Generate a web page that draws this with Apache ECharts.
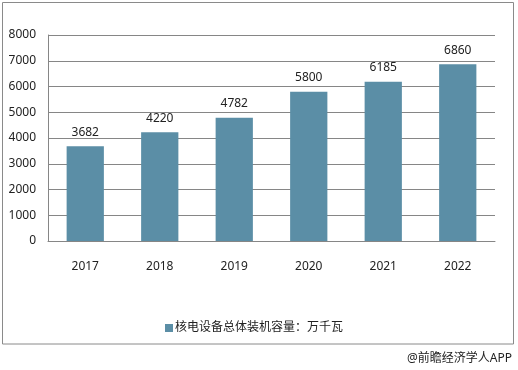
<!DOCTYPE html>
<html><head><meta charset="utf-8">
<script src="https://cdn.jsdelivr.net/npm/echarts@6/dist/echarts.min.js"></script>
<style>html,body{margin:0;padding:0;background:#fff}#c{width:518px;height:370px}</style>
</head><body><div id="c"></div>
<script>
const categories = ['2017','2018','2019','2020','2021','2022'];
const values = [3682, 4220, 4782, 5800, 6185, 6860];
const seriesName = '核电设备总体装机容量：万千瓦';
const sourceText = '@前瞻经济学人APP';
const FONT = '"Noto Sans", "Noto Sans CJK SC", sans-serif';
const chart = echarts.init(document.getElementById('c'));
chart.setOption({
  animation: false,
  backgroundColor: '#fff',
  grid: {left: 48, right: 23, top: 35, bottom: 129},
  xAxis: {
    type: 'category', data: categories,
    axisLine: {lineStyle: {color: '#868686', width: 1}},
    axisTick: {show: false},
    axisLabel: {color: '#222', fontSize: 12, fontFamily: FONT, margin: 20}
  },
  yAxis: {
    type: 'value', min: 0, max: 8000, interval: 1000,
    axisLine: {show: true, lineStyle: {color: '#868686'}},
    axisTick: {show: false},
    splitLine: {lineStyle: {color: '#868686', width: 1}},
    axisLabel: {color: '#222', fontSize: 12, fontFamily: FONT, margin: 12, formatter: v => String(v)}
  },
  legend: {
    data: [seriesName], left: 160, top: 317, itemWidth: 8, itemHeight: 8, itemGap: 2,
    icon: 'rect',
    textStyle: {color: '#222', fontSize: 12, fontFamily: FONT, padding: [0,0,0,-3]}
  },
  graphic: [
    {type: 'rect', shape: {x: 2.5, y: 2.5, width: 511, height: 341.5}, style: {fill: 'none', stroke: '#8a8a8a', lineWidth: 1}, z: -1},
    {type: 'text', right: 6, top: 353, style: {text: sourceText, fill: '#222', font: '12px ' + FONT}}
  ],
  series: [{
    name: seriesName, type: 'bar', data: values, barWidth: '50%',
    itemStyle: {color: '#5b8ea6'},
    label: {show: true, position: 'top', distance: 8, color: '#222', fontSize: 12, fontFamily: FONT}
  }]
});
</script></body></html>
